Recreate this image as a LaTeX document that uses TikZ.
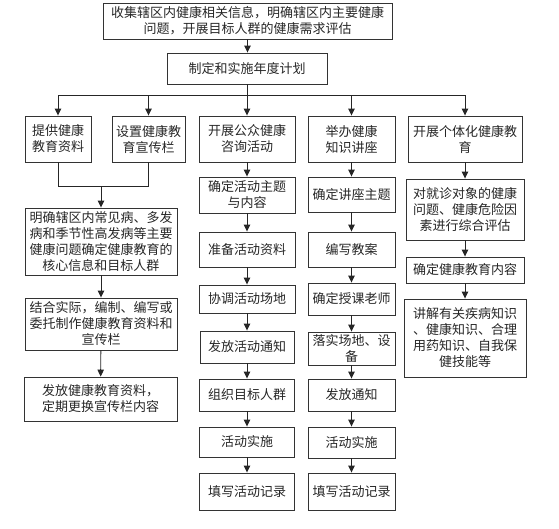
\documentclass[tikz,border=0pt]{standalone}
\usepackage{fontspec}
\setmainfont{Noto Sans CJK SC}
\usepackage{tikz}
\usetikzlibrary{arrows.meta,calc}

\begin{document}
\begin{tikzpicture}[
  x=1pt, y=-1pt,
  box/.style={draw=black!80, line width=0.9pt, inner sep=0pt, align=center, text=black!85, font=\fontsize{13}{16}\selectfont},
  edge/.style={-{Triangle[length=7pt, width=6.5pt]}, line width=0.9pt, draw=black!85},
  link/.style={line width=0.9pt, draw=black!85},
]
\useasboundingbox (0,0) rectangle (559,528);

% top of the chart
\node[box, minimum width=289, minimum height=36] (need) at (247.5, 21) {收集辖区内健康相关信息，明确辖区内主要健康\\问题，开展目标人群的健康需求评估};
\node[box, minimum width=160, minimum height=31] (plan) at (247, 68.5) {制定和实施年度计划};
\draw[edge] (need) -- (need.south |- plan.north);
\coordinate (bus) at (247, 95);
\draw[link] (plan) -- (bus);

% five kinds of work
\node[box, minimum width=66, minimum height=46] (give) at (58, 139) {提供健康\\教育资料};
\node[box, minimum width=73, minimum height=46] (board) at (148.5, 139) {设置健康教\\育宣传栏};
\node[box, minimum width=96, minimum height=46] (consult) at (247, 139) {开展公众健康\\咨询活动};
\node[box, minimum width=87, minimum height=46] (lecture) at (351.5, 139) {举办健康\\知识讲座};
\node[box, minimum width=114, minimum height=46] (person) at (465, 139) {开展个体化健康教\\育};
\draw[edge] (bus) -- (consult);
\foreach \n in {give, board, lecture, person}
  \draw[edge] (bus) -| (\n);

% materials and boards
\coordinate (join) at (101, 186);
\draw[link] (give) |- (join);
\draw[link] (board) |- (join);
\node[box, minimum width=152, minimum height=67] (core) at (101, 241.5) {明确辖区内常见病、多发\\病和季节性高发病等主要\\健康问题确定健康教育的\\核心信息和目标人群};
\node[box, minimum width=152, minimum height=52] (make) at (101, 324) {结合实际，编制、编写或\\委托制作健康教育资料和\\宣传栏};
\node[box, minimum width=153, minimum height=44] (hand) at (100.5, 399) {发放健康教育资料，\\定期更换宣传栏内容};
\draw[edge] (join) -- (core);
\draw[edge] (core) -- (make);
\draw[edge] (make) -- (hand);

% consultation activity
\node[box, minimum width=96, minimum height=36] (c1) at (247, 195) {确定活动主题\\与内容};
\node[box, minimum width=96, minimum height=35] (c2) at (247, 249.5) {准备活动资料};
\node[box, minimum width=96, minimum height=28] (c3) at (247, 299) {协调活动场地};
\node[box, minimum width=94, minimum height=32] (c4) at (247, 347) {发放活动通知};
\node[box, minimum width=95, minimum height=32] (c5) at (247, 395) {组织目标人群};
\node[box, minimum width=95, minimum height=30] (c6) at (247, 442) {活动实施};
\node[box, minimum width=95, minimum height=37] (c7) at (247, 491.5) {填写活动记录};
\draw[edge] (consult) -- (c1);
\foreach \a/\b in {c1/c2, c2/c3, c3/c4, c4/c5, c5/c6, c6/c7}
  \draw[edge] (\a) -- (\b);

% lectures
\node[box, minimum width=87, minimum height=35] (l1) at (351.5, 194.5) {确定讲座主题};
\node[box, minimum width=87, minimum height=35] (l2) at (351.5, 249.5) {编写教案};
\node[box, minimum width=87, minimum height=32] (l3) at (351.5, 299) {确定授课老师};
\node[box, minimum width=87, minimum height=33] (l4) at (351.5, 348.5) {落实场地、设\\备};
\node[box, minimum width=87, minimum height=32] (l5) at (351.5, 395) {发放通知};
\node[box, minimum width=87, minimum height=31] (l6) at (351.5, 442.5) {活动实施};
\node[box, minimum width=87, minimum height=37] (l7) at (351.5, 491.5) {填写活动记录};
\draw[edge] (lecture) -- (l1);
\foreach \a/\b in {l1/l2, l2/l3, l3/l4, l4/l5, l5/l6, l6/l7}
  \draw[edge] (\a) -- (\b);

% individual education
\node[box, minimum width=118, minimum height=61] (p1) at (465, 209.5) {对就诊对象的健康\\问题、健康危险因\\素进行综合评估};
\node[box, minimum width=118, minimum height=26] (p2) at (465, 270) {确定健康教育内容};
\node[box, minimum width=122, minimum height=78] (p3) at (465, 338) {讲解有关疾病知识\\、健康知识、合理\\用药知识、自我保\\健技能等};
\draw[edge] (person) -- (p1);
\draw[edge] (p1) -- (p2);
\draw[edge] (p2) -- (p3);

\end{tikzpicture}
\end{document}
